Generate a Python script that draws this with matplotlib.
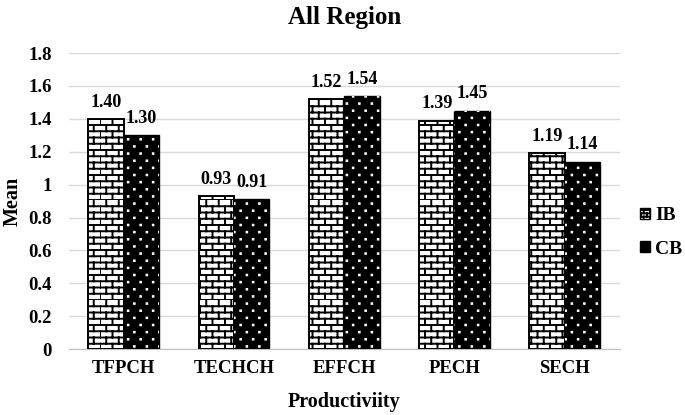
import warnings
import numpy as np
import matplotlib
matplotlib.use('Agg')
import matplotlib.pyplot as plt
from matplotlib import hatch as mhatch
from matplotlib.path import Path
from matplotlib.patches import Patch

warnings.filterwarnings('ignore')

categories = ['TFPCH', 'TECHCH', 'EFFCH', 'PECH', 'SECH']
ib = [1.40, 0.93, 1.52, 1.39, 1.19]
cb = [1.30, 0.91, 1.54, 1.45, 1.14]


# brick hatch ('b'), matplotlib has none
class BrickHatch(mhatch.HatchPatternBase):
    def __init__(self, hatch, density):
        n = hatch.count('b')
        self.rows = 15 * n + (15 * n) % 2
        self.cols = 8 * n
        self.num_vertices = (self.rows * 2 + self.rows * self.cols * 2) if n else 0

    def set_vertices_and_codes(self, vertices, codes):
        i = 0
        for r in range(self.rows):
            y0 = r / self.rows
            y1 = (r + 1) / self.rows
            vertices[i] = (0, y0)
            vertices[i + 1] = (1, y0)
            codes[i] = Path.MOVETO
            codes[i + 1] = Path.LINETO
            i += 2
            for c in range(self.cols):
                xx = (c + 0.5 * (r % 2)) / self.cols
                vertices[i] = (xx, y0)
                vertices[i + 1] = (xx, y1)
                codes[i] = Path.MOVETO
                codes[i + 1] = Path.LINETO
                i += 2


# sparse staggered small dots ('d')
class DotHatch(mhatch.HatchPatternBase):
    def __init__(self, hatch, density):
        n = hatch.count('d')
        self.rows = 14 * n
        self.cols = 8 * n
        self.s = 0.003
        self.num_vertices = self.rows * self.cols * 5 if n else 0

    def set_vertices_and_codes(self, vertices, codes):
        i = 0
        s = self.s
        for r in range(self.rows):
            yc = (r + 0.5) / self.rows
            for c in range(self.cols):
                xc = (c + 0.25 + 0.5 * (r % 2)) / self.cols
                sq = [(xc - s, yc - s), (xc + s, yc - s), (xc + s, yc + s), (xc - s, yc + s), (xc - s, yc - s)]
                vertices[i:i + 5] = sq
                codes[i:i + 5] = [Path.MOVETO, Path.LINETO, Path.LINETO, Path.LINETO, Path.CLOSEPOLY]
                i += 5


mhatch._hatch_types.append(BrickHatch)
mhatch._hatch_types.append(DotHatch)

plt.rcParams['font.family'] = ['Liberation Serif', 'DejaVu Serif']
plt.rcParams['font.weight'] = 'bold'
plt.rcParams['hatch.linewidth'] = 1.4

fig = plt.figure(figsize=(6.85, 4.15), dpi=100)
ax = fig.add_axes([0.1, 0.159, 0.805, 0.713])

x = np.arange(len(categories))
w = 0.32

ax.bar(x - w / 2, ib, w, color='white', edgecolor='black', hatch='b', linewidth=1.4, zorder=3)
ax.bar(x + w / 2, cb, w, color='black', edgecolor='black', linewidth=1.0, zorder=3)
ax.bar(x + w / 2, cb, w, color='none', edgecolor='white', hatch='d', linewidth=0, zorder=4)

for xi, v in zip(x, ib):
    ax.text(xi - w / 2, v + 0.05, f'{v:.2f}', ha='center', va='bottom', fontsize=13, fontweight='bold')
for xi, v in zip(x, cb):
    ax.text(xi + w / 2, v + 0.05, f'{v:.2f}', ha='center', va='bottom', fontsize=13, fontweight='bold')

ax.set_xlim(-0.5, len(categories) - 0.5)
ax.set_ylim(0, 1.8)
ax.set_yticks(np.arange(0, 1.81, 0.2))
ax.set_yticklabels(['0', '0.2', '0.4', '0.6', '0.8', '1', '1.2', '1.4', '1.6', '1.8'])
ax.set_xticks(x)
ax.set_xticklabels(categories)
ax.tick_params(axis='both', length=0, labelsize=13.5)
ax.tick_params(axis='y', pad=12)
ax.tick_params(axis='x', pad=8)
ax.grid(axis='y', color='#d9d9d9', linewidth=1, zorder=0)
for s in ['top', 'right', 'left']:
    ax.spines[s].set_visible(False)
ax.spines['bottom'].set_color('#bfbfbf')

ax.set_title('All Region', fontsize=18, fontweight='bold', pad=21)
ax.set_xlabel('Productiviity', fontsize=14.5, fontweight='bold', labelpad=11)
ax.set_ylabel('Mean', fontsize=14.5, fontweight='bold', labelpad=4)

h1 = Patch(facecolor='white', edgecolor='black', hatch='bb')
h2 = Patch(facecolor='black', edgecolor='black')
fig.legend([h1, h2], ['IB', 'CB'], loc='center left', bbox_to_anchor=(0.935, 0.44),
           frameon=False, fontsize=14, handlelength=0.5, handleheight=0.5,
           handletextpad=0.25, labelspacing=0.85, borderpad=0, borderaxespad=0)

fig.savefig('out.png', dpi=100)
